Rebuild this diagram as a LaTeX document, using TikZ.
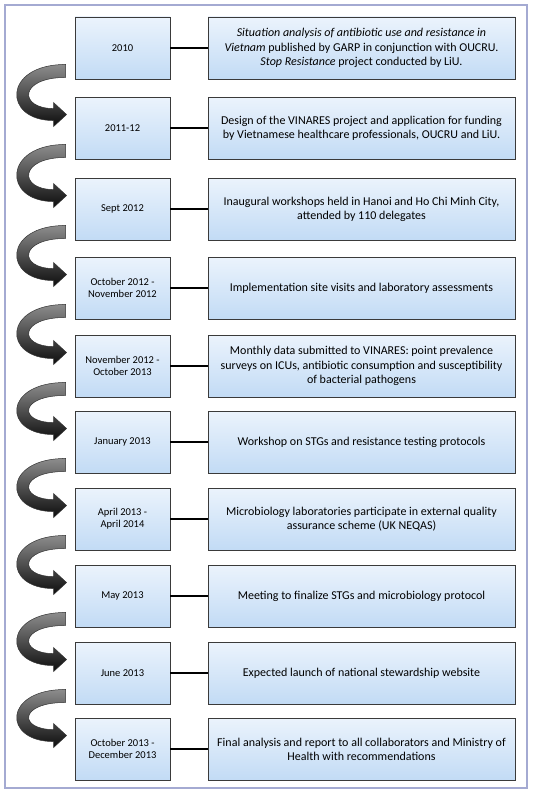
\documentclass[tikz,border=0pt]{standalone}
\usepackage{fontspec}
\setmainfont{Carlito}
\usetikzlibrary{calc,shadows}

\definecolor{boxtop}{HTML}{EBF3FC}
\definecolor{boxbottom}{HTML}{C2DBF5}
\definecolor{boxline}{HTML}{3A3A3A}
\definecolor{framecol}{HTML}{A4AAD2}

\tikzset{
  datebox/.style = {draw = boxline, line width = 0.9pt, top color = boxtop, bottom color = boxbottom,
    minimum width = 95pt, minimum height = 62pt, inner sep = 0pt, align = center,
    font = \fontsize{10.5}{12}\selectfont,
    drop shadow = {shadow xshift = 1.2pt, shadow yshift = -1.2pt, opacity = 0.35}},
  eventbox/.style = {datebox, minimum width = 307pt, font = \fontsize{12}{14.2}\selectfont},
  link/.style = {line width = 2.8pt, black},
  turnarrow/.style = {draw = black!80, line width = 0.5pt, top color = black!45, bottom color = black!95}
}

\begin{document}
\begin{tikzpicture}[x = 1pt, y = -1pt]
\useasboundingbox (0, 0) rectangle (535, 800);
\draw[framecol, line width = 1.4pt, fill = white, drop shadow = {shadow xshift = 1pt, shadow yshift = -1pt, opacity = 0.3}] (5, 5) rectangle (527, 788);

\node[datebox] (d1) at (122.5, 48) {2010};
\node[eventbox] (e1) at (361.5, 48) {\textit{Situation analysis of antibiotic use and resistance in}\\ \textit{Vietnam} published by GARP in conjunction with OUCRU.\\ \textit{Stop Resistance} project conducted by LiU.};
\node[datebox] (d2) at (122.5, 128) {2011-12};
\node[eventbox] (e2) at (361.5, 128) {Design of the VINARES project and application for funding\\ by Vietnamese healthcare professionals, OUCRU and LiU.};
\node[datebox] (d3) at (122.5, 209) {Sept 2012};
\node[eventbox] (e3) at (361.5, 209) {Inaugural workshops held in Hanoi and Ho Chi Minh City,\\ attended by 110 delegates};
\node[datebox] (d4) at (122.5, 288) {October 2012 -\\ November 2012};
\node[eventbox] (e4) at (361.5, 288) {Implementation site visits and laboratory assessments};
\node[datebox] (d5) at (122.5, 366) {November 2012 -\\ October 2013};
\node[eventbox] (e5) at (361.5, 366) {Monthly data submitted to VINARES: point prevalence\\ surveys on ICUs, antibiotic consumption and susceptibility\\ of bacterial pathogens};
\node[datebox] (d6) at (122.5, 442) {January 2013};
\node[eventbox] (e6) at (361.5, 442) {Workshop on STGs and resistance testing protocols};
\node[datebox] (d7) at (122.5, 519) {April 2013 -\\ April 2014};
\node[eventbox] (e7) at (361.5, 519) {Microbiology laboratories participate in external quality\\ assurance scheme (UK NEQAS)};
\node[datebox] (d8) at (122.5, 596) {May 2013};
\node[eventbox] (e8) at (361.5, 596) {Meeting to finalize STGs and microbiology protocol};
\node[datebox] (d9) at (122.5, 673) {June 2013};
\node[eventbox] (e9) at (361.5, 673) {Expected launch of national stewardship website};
\node[datebox] (d10) at (122.5, 749) {October 2013 -\\ December 2013};
\node[eventbox] (e10) at (361.5, 749) {Final analysis and report to all collaborators and Ministry of\\ Health with recommendations};

\foreach \i in {1, ..., 10}
  \draw[link] (d\i) -- (e\i);

\foreach \i/\j in {1/2, 2/3, 3/4, 4/5, 5/6, 6/7, 7/8, 8/9, 9/10}
  \path[turnarrow] ($(d\i.south west) + (-9, -15)$)
    .. controls ($(d\i.south west) + (-72, -15)$) and ($(d\j.north west) + (-72, 24)$) .. ($(d\j.north west) + (-21, 24)$)
    -- ($(d\j.north west) + (-21, 30)$) -- ($(d\j.north west) + (-8, 18)$) -- ($(d\j.north west) + (-21, 6)$)
    -- ($(d\j.north west) + (-21, 12)$)
    .. controls ($(d\j.north west) + (-56, 12)$) and ($(d\i.south west) + (-56, -2)$) .. ($(d\i.south west) + (-9, -2)$)
    -- cycle;
\end{tikzpicture}
\end{document}
